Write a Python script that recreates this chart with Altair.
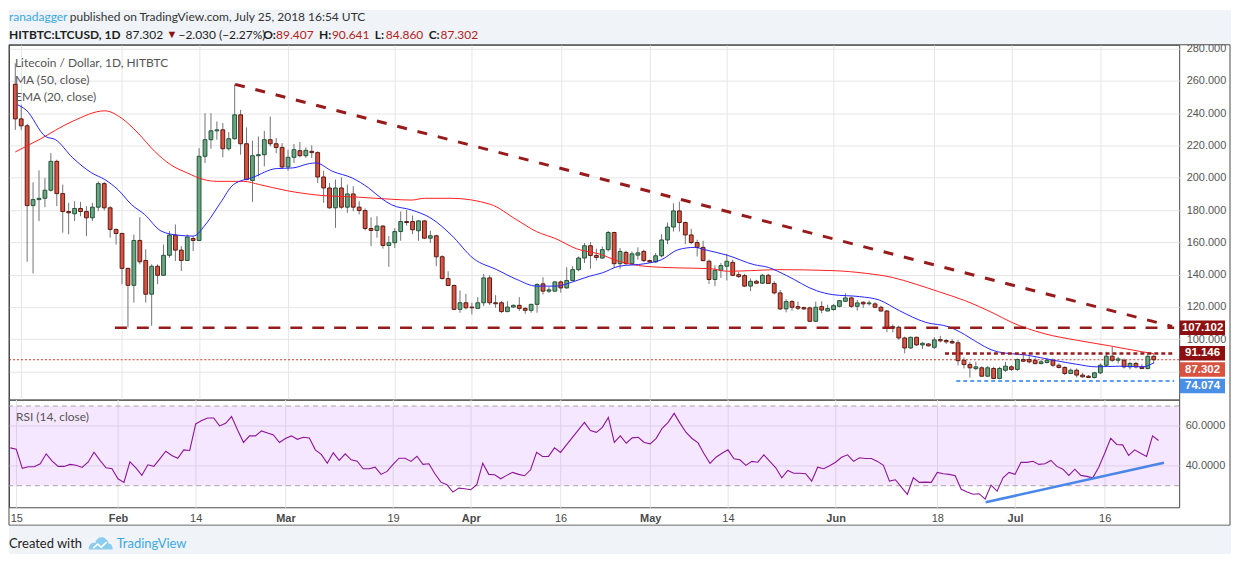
import altair as alt
import pandas as pd

# ---- values -------------------------------------------------------------------
FIRST_DAY = "2018-01-14"  # first candle, half hidden behind the left edge

opens = [
    257.9, 236.5, 232.2, 182.8, 186.5, 187.3, 192.3, 210.2, 190.2, 179.1,
    177.7, 181.0, 179.1, 175.2, 181.8, 196.4, 181.4, 168.0, 165.5, 143.9,
    133.4, 161.2, 148.8, 127.9, 145.2, 139.6, 152.0, 164.5, 155.2, 148.8,
    162.4, 161.2, 213.3, 223.6, 229.1, 229.7, 218.0, 224.2, 239.0, 221.1,
    198.3, 213.7, 214.3, 223.6, 221.1, 218.8, 206.7, 212.7, 216.8, 213.7,
    216.4, 215.6, 200.5, 193.7, 181.4, 193.7, 181.8, 190.0, 181.8, 179.7,
    168.6, 167.4, 170.1, 158.1, 159.8, 166.7, 172.9, 172.9, 167.2, 173.3,
    162.6, 164.1, 151.1, 137.6, 133.3, 118.5, 122.6, 119.9, 119.1, 122.6,
    138.0, 122.6, 122.6, 117.1, 119.9, 121.0, 119.1, 117.9, 121.6, 134.3,
    129.8, 129.8, 135.5, 131.8, 136.4, 143.1, 150.3, 157.9, 151.9, 150.3,
    155.5, 166.1, 146.8, 153.8, 146.8, 152.1, 154.4, 148.7, 147.9, 151.7,
    161.5, 169.5, 179.5, 172.3, 164.6, 159.9, 156.9, 148.3, 137.0, 142.7,
    145.2, 147.6, 140.0, 139.4, 132.9, 135.9, 134.7, 139.6, 134.5, 128.7,
    118.8, 123.3, 120.2, 119.6, 119.4, 111.1, 120.2, 117.5, 118.4, 120.4,
    123.5, 125.6, 120.4, 122.9, 122.0, 121.9, 119.8, 117.5, 107.0, 107.4,
    100.8, 94.6, 101.2, 96.5, 97.1, 95.0, 99.8, 99.2, 98.6, 97.8,
    87.0, 84.3, 81.8, 82.3, 77.1, 81.9, 75.7, 80.8, 82.9, 81.3,
    87.4, 87.4, 87.0, 84.9, 85.6, 87.0, 83.9, 82.5, 78.8, 80.8,
    77.8, 77.1, 76.3, 79.2, 83.9, 89.5, 87.0, 87.0, 82.9, 85.0,
    82.9, 81.9, 89.407,
]
highs = [
    270.9, 245.2, 233.5, 197.2, 204.6, 199.9, 215.3, 211.2, 195.8, 184.5,
    185.5, 185.1, 182.4, 184.5, 197.8, 197.4, 182.4, 168.6, 166.0, 144.3,
    164.9, 175.6, 155.7, 146.4, 146.4, 158.7, 167.0, 171.1, 157.7, 164.9,
    163.9, 218.4, 240.0, 240.0, 234.9, 233.9, 228.3, 257.9, 242.1, 231.2,
    223.0, 225.6, 229.1, 238.0, 224.6, 221.5, 217.4, 220.9, 222.1, 218.8,
    220.1, 216.4, 204.4, 196.8, 198.9, 200.3, 195.8, 194.8, 185.5, 181.0,
    175.6, 176.2, 170.7, 163.9, 168.8, 179.1, 180.1, 176.6, 173.9, 173.9,
    167.2, 164.7, 152.0, 142.1, 133.9, 130.2, 128.1, 122.6, 126.1, 140.5,
    139.6, 127.3, 123.6, 123.6, 121.6, 126.1, 119.9, 122.0, 134.7, 138.4,
    132.3, 136.0, 136.4, 144.6, 145.2, 151.3, 159.6, 160.2, 156.1, 157.5,
    167.1, 166.6, 156.5, 154.8, 154.4, 156.9, 155.5, 149.3, 153.4, 165.1,
    172.3, 184.2, 185.2, 172.9, 168.4, 161.6, 161.0, 149.3, 145.8, 147.2,
    152.8, 149.3, 141.7, 140.5, 137.6, 136.8, 140.5, 140.5, 136.0, 130.5,
    124.9, 124.3, 123.3, 120.2, 120.2, 123.3, 123.5, 121.4, 121.9, 124.3,
    128.5, 126.4, 124.3, 123.5, 123.9, 122.9, 120.8, 118.1, 109.1, 108.4,
    101.6, 101.6, 101.6, 98.1, 97.5, 101.2, 102.1, 100.2, 100.2, 99.4,
    88.7, 86.0, 86.0, 83.3, 83.3, 82.9, 82.9, 86.0, 83.9, 88.1,
    90.1, 89.5, 88.7, 87.4, 88.1, 88.1, 85.0, 83.3, 81.9, 81.9,
    79.2, 77.8, 79.8, 85.0, 92.2, 95.3, 89.1, 88.1, 86.0, 86.0,
    84.5, 91.1, 90.641,
]
lows = [
    229.7, 229.5, 148.0, 140.8, 173.2, 181.8, 191.5, 182.4, 166.0, 165.0,
    173.2, 176.2, 163.9, 173.2, 179.3, 179.7, 162.9, 158.7, 134.1, 107.3,
    122.7, 146.4, 122.7, 108.3, 134.1, 139.2, 150.5, 148.5, 142.3, 148.5,
    154.6, 160.8, 209.2, 218.0, 223.6, 212.7, 216.8, 223.6, 214.3, 198.5,
    185.1, 200.9, 207.1, 219.5, 215.3, 206.1, 204.4, 209.2, 212.7, 212.3,
    212.3, 196.8, 184.5, 180.8, 169.0, 180.8, 178.3, 179.3, 177.3, 167.4,
    157.7, 162.9, 156.1, 144.8, 156.5, 161.0, 170.4, 165.1, 161.0, 162.0,
    159.6, 145.2, 137.0, 132.9, 118.0, 116.4, 118.5, 115.4, 119.1, 120.5,
    121.2, 119.5, 116.4, 116.8, 119.5, 117.5, 115.8, 116.4, 116.4, 127.7,
    128.6, 129.8, 128.8, 131.3, 136.0, 142.1, 147.2, 143.7, 148.7, 149.7,
    154.4, 144.2, 143.7, 146.2, 146.2, 149.3, 147.9, 147.2, 147.2, 150.7,
    158.9, 166.7, 166.7, 158.9, 158.9, 151.3, 148.3, 134.3, 132.9, 138.0,
    136.4, 139.0, 138.0, 132.3, 129.8, 134.3, 134.3, 134.3, 127.8, 118.1,
    116.7, 117.7, 118.1, 118.1, 110.6, 110.6, 116.1, 117.3, 117.7, 119.8,
    123.3, 119.4, 117.7, 119.4, 120.8, 119.2, 117.0, 104.3, 104.3, 99.6,
    91.3, 94.0, 95.9, 94.0, 95.5, 94.0, 98.1, 97.1, 97.1, 83.8,
    81.9, 76.3, 80.8, 76.7, 76.7, 75.3, 75.3, 79.8, 80.4, 80.4,
    86.0, 85.0, 84.5, 84.5, 85.0, 82.9, 81.9, 77.8, 78.4, 76.3,
    76.3, 76.1, 75.7, 78.4, 82.9, 86.0, 85.0, 81.9, 81.3, 81.9,
    81.5, 81.3, 84.86,
]
closes = [
    236.5, 232.2, 182.8, 186.5, 187.3, 192.3, 210.2, 190.2, 179.1, 178.3,
    181.0, 179.1, 175.2, 181.8, 196.4, 181.4, 168.0, 165.5, 143.9, 133.4,
    161.2, 148.0, 127.9, 145.2, 139.6, 152.0, 164.5, 155.2, 148.8, 163.3,
    161.2, 213.3, 223.6, 229.1, 229.7, 218.0, 224.2, 239.0, 221.1, 198.9,
    213.7, 214.3, 223.6, 221.1, 218.8, 206.7, 212.7, 217.4, 213.7, 217.0,
    215.6, 200.5, 193.7, 181.4, 193.7, 181.8, 190.0, 181.8, 179.7, 168.6,
    167.4, 170.1, 158.1, 159.8, 166.7, 172.9, 172.3, 167.8, 173.3, 162.6,
    164.1, 151.1, 137.6, 133.3, 118.5, 122.6, 119.5, 119.5, 122.6, 138.0,
    122.6, 122.0, 117.1, 119.9, 121.0, 119.1, 117.9, 121.6, 133.9, 129.8,
    130.6, 135.5, 131.8, 136.4, 143.1, 150.3, 157.9, 151.9, 150.7, 155.5,
    166.1, 146.8, 154.4, 146.8, 152.9, 153.5, 148.7, 147.9, 151.7, 161.5,
    169.5, 179.5, 172.3, 164.6, 159.9, 156.9, 148.7, 137.0, 142.7, 145.6,
    148.3, 139.6, 138.8, 132.9, 135.9, 134.7, 139.6, 134.5, 128.7, 118.8,
    123.3, 119.8, 119.2, 118.8, 111.1, 119.8, 118.1, 119.0, 120.8, 123.9,
    125.6, 120.4, 122.5, 121.9, 122.5, 119.8, 117.5, 107.0, 107.8, 100.8,
    94.6, 101.2, 96.5, 97.5, 95.9, 99.6, 99.0, 98.4, 97.7, 86.7,
    84.3, 82.3, 82.9, 77.1, 82.3, 75.7, 81.9, 83.3, 81.3, 87.4,
    86.4, 86.0, 84.9, 86.0, 87.0, 83.9, 82.5, 78.8, 80.8, 77.8,
    76.7, 76.3, 79.2, 83.9, 89.5, 87.0, 87.8, 82.9, 85.0, 82.9,
    81.9, 89.4, 87.302,
]
rsi_values = [
    49.0, 48.3, 38.7, 39.5, 39.5, 41.0, 46.0, 42.3, 39.7, 39.7,
    40.7, 40.3, 39.2, 41.8, 46.8, 42.7, 39.0, 38.5, 33.5, 31.7,
    42.0, 39.0, 35.2, 40.5, 39.7, 43.5, 47.3, 45.2, 43.8, 48.0,
    47.7, 61.0, 62.7, 64.0, 64.0, 60.0, 61.3, 64.7, 58.0, 51.7,
    55.0, 55.0, 57.5, 56.5, 55.5, 51.7, 53.7, 55.0, 53.3, 54.3,
    54.0, 48.0, 45.7, 41.3, 46.5, 42.7, 46.0, 43.0, 42.3, 38.5,
    38.5, 39.3, 35.7, 37.2, 40.7, 43.8, 43.8, 42.2, 44.8, 40.7,
    41.0, 36.0, 31.8, 30.5, 26.8, 28.8, 28.5, 28.0, 30.5, 41.3,
    35.7, 35.5, 33.5, 35.2, 36.7, 35.7, 35.0, 38.0, 46.8, 44.7,
    44.7, 49.0, 46.7, 50.5, 54.3, 58.0, 61.8, 57.7, 56.8, 59.3,
    64.3, 51.7, 55.0, 51.3, 54.0, 54.3, 51.7, 51.0, 53.8, 58.8,
    61.8, 66.3, 61.3, 56.7, 53.7, 51.5, 46.0, 41.2, 44.3, 46.3,
    48.0, 43.5, 43.0, 40.2, 42.2, 41.8, 45.5, 42.2, 39.0, 34.0,
    37.7, 36.3, 36.3, 36.0, 32.3, 39.3, 38.5, 40.0, 41.8, 44.3,
    45.5, 42.2, 44.0, 43.7, 43.7, 42.2, 40.2, 32.3, 33.0, 29.3,
    25.7, 34.0, 31.7, 31.8, 31.7, 36.7, 36.0, 35.7, 35.0, 28.2,
    26.8, 25.7, 26.0, 23.3, 30.3, 27.3, 34.0, 36.7, 35.7, 41.8,
    41.7, 42.3, 40.7, 41.0, 42.7, 39.7, 38.3, 35.2, 38.3, 35.2,
    34.7, 34.0, 39.3, 46.3, 53.8, 50.7, 50.5, 45.2, 48.0, 46.3,
    44.7, 55.0, 52.7,
]

# moving averages as traced on the picture (day offset from FIRST_DAY, value)
ma50_days = [0, 4, 9.6, 15.1, 17.9, 20.7, 23.5, 26.2, 29, 31.8, 34, 38.5, 41.2,
             45.7, 51.2, 57.9, 63.5, 66.8, 69, 73.5, 80.1, 84.6, 87.9, 91.2,
             94.6, 98.5, 101.8, 106.2, 111.8, 117.3, 120.1, 124, 128.5, 137.9,
             143.5, 147.9, 151.8, 155.7, 160.1, 165.1, 167.9, 173.5, 179, 184.6,
             190.1, 192]
ma50_values = [216.0, 223.6, 234.9, 241.5, 237.0, 227.7, 216.4, 208.1, 203.0,
               198.9, 197.8, 197.8, 195.8, 192.1, 189.2, 188.0, 186.7, 186.2,
               187.3, 187.3, 183.6, 173.9, 166.7, 162.2, 156.1, 152.8, 148.3,
               145.2, 144.2, 143.7, 142.1, 142.5, 143.1, 142.5, 140.8, 138.3,
               134.2, 129.5, 124.0, 115.9, 110.7, 103.5, 99.4, 95.9, 92.2, 91.1]
ema20_days = [0.4, 1.8, 5.1, 6.8, 9.6, 12.9, 15.1, 17.3, 19.6, 21.8, 24.6, 27.3,
              30.0, 32.3, 34.6, 36.8, 40.1, 44, 46.8, 49.6, 50.7, 53.5, 56.8,
              59.6, 61.8, 63.5, 66.8, 70.1, 73.5, 77.3, 81.2, 84.6, 87.9, 91.2,
              94, 96.8, 99, 101.8, 106.2, 109, 111.8, 114.6, 116.2, 120.1, 124.6,
              127, 130.1, 135.1, 137.9, 142.4, 145.7, 149.1, 153.5, 157.5, 160.1,
              161.2, 165.7, 170.7, 175.1, 179, 182.3, 186.2, 190.1, 192]
ema20_values = [245.2, 242.1, 225.6, 223.6, 212.7, 203.0, 198.9, 192.7, 183.4,
                177.3, 167.0, 164.5, 163.9, 172.1, 184.5, 195.8, 200.3, 205.7,
                206.1, 208.8, 209.2, 204.0, 199.9, 193.7, 187.1, 183.2, 180.1,
                175.0, 164.7, 149.9, 143.1, 137.0, 132.9, 132.9, 135.5, 139.0,
                141.1, 145.2, 146.8, 149.3, 155.5, 156.9, 155.5, 152.0, 146.2,
                144.5, 139.4, 130.1, 127.6, 126.4, 124.3, 117.7, 110.5, 107.6,
                102.9, 100.4, 92.2, 90.1, 87.0, 84.5, 82.9, 83.3, 82.9, 85.4]

date_ticks = ["2018-01-15", "2018-02-01", "2018-02-14", "2018-03-01", "2018-03-19",
              "2018-04-01", "2018-04-16", "2018-05-01", "2018-05-14", "2018-06-01",
              "2018-06-18", "2018-07-01", "2018-07-16"]
price_ticks = [80, 100, 120, 140, 160, 180, 200, 220, 240, 260, 280]
rsi_ticks = [40, 60]

# hand drawn lines (day offsets, values)
trend_days, trend_values = [37.07, 195.1], [257.9, 108.0]
rsi_trend_days, rsi_trend_values = [163.1, 192.9], [21.7, 41.5]
resistance_from, resistance = 16.8, 107.102
upper_from, upper = 156.8, 91.146
support_from, support = 158.7, 74.074
last_price = 87.302

# price tags on the axis: value shown and where the tag sits
tag_values = [107.102, 91.146, 87.302, 74.074]
tag_centers = [107.1, 91.35, 81.2, 71.1]

# ---- styling ------------------------------------------------------------------
W, H_MAIN, H_RSI = 1174, 356, 108
FONT = "Lato"
AXIS_FONT = "Liberation Sans"
GRID = "#E6E6E6"
FRAME = "#4A4A4A"
BG = "#F0F3F7"
UP_FILL, UP_LINE = "#6BA583", "#225437"
DOWN_FILL, DOWN_LINE = "#D75442", "#5B1A13"
WICK = "#737375"
LEVEL_RED = "#971B1B"
TAG_COLORS = ["#8E0F0F", "#8E0F0F", "#D9513F", "#4A8FE7"]
LAST_DAY = 195.45


def ms(day):
    return int((pd.Timestamp(FIRST_DAY) + pd.Timedelta(days=day)).timestamp() * 1000)


tick_ms = [int(pd.Timestamp(d).timestamp() * 1000) for d in date_ticks]
x_scale = alt.Scale(type="utc", domain=[ms(-0.22), ms(LAST_DAY)])
price_scale = alt.Scale(domain=[62.6, 282.4], nice=False, zero=False)
rsi_scale = alt.Scale(domain=[19.2, 73.2], nice=False, zero=False)

x_axis_main = alt.Axis(values=tick_ms, labels=False, ticks=False, domain=False,
                       grid=True, gridColor=GRID, title=None)
x_axis_rsi = alt.Axis(
    values=tick_ms, ticks=False, domain=False, grid=True, gridColor=GRID,
    title=None, labelFont=AXIS_FONT, labelFontSize=11, labelColor=FRAME,
    labelPadding=5, labelOverlap=False, labelFlush=False,
    labelExpr="utcdate(datum.value) == 1 ? utcFormat(datum.value, '%b') "
              ": utcFormat(datum.value, '%d')",
    labelFontWeight={"condition": {"test": "utcdate(datum.value) == 1",
                                   "value": "bold"}, "value": "normal"},
)
y_axis_main = alt.Axis(
    orient="right", values=price_ticks, ticks=False, domain=False, grid=True,
    gridColor=GRID, title=None, labelFont=AXIS_FONT, labelFontSize=11,
    labelColor="#555555", labelPadding=7,
    labelExpr="datum.value < 90 ? '' : format(datum.value, '.3f')",
)
y_axis_rsi = alt.Axis(
    orient="right", values=rsi_ticks, ticks=False, domain=False, grid=True,
    gridColor=GRID, title=None, labelFont=AXIS_FONT, labelFontSize=11,
    labelColor="#555555", labelPadding=6, format=".4f",
)


def xm(field="date"):
    return alt.X(f"{field}:T", scale=x_scale, axis=x_axis_main)


def xr(field="date"):
    return alt.X(f"{field}:T", scale=x_scale, axis=x_axis_rsi)


def yp(field):
    return alt.Y(f"{field}:Q", scale=price_scale, axis=y_axis_main)


def yr(field):
    return alt.Y(f"{field}:Q", scale=rsi_scale, axis=y_axis_rsi)


ONE = pd.DataFrame({"k": [0]})


def text_at(text, x, y, size=12, color="#333333", weight="normal", align="left"):
    return alt.Chart(ONE).mark_text(
        text=text, align=align, baseline="middle", font=FONT, fontSize=size,
        color=color, fontWeight=weight,
    ).encode(x=alt.value(x), y=alt.value(y))


def box(x, x2, y, y2, **style):
    return alt.Chart(ONE).mark_rect(**style).encode(
        x=alt.value(x), x2=alt.value(x2), y=alt.value(y), y2=alt.value(y2))


def segment(days, values, y_enc, x_enc, **style):
    df = pd.DataFrame({"date": [ms(d) for d in days], "value": values})
    return alt.Chart(df).mark_line(clip=True, **style).encode(
        x=x_enc(), y=y_enc("value"))


# ---- price panel --------------------------------------------------------------
assert len(opens) == len(highs) == len(lows) == len(closes) == len(rsi_values)
candles = pd.DataFrame({
    "date": [ms(i) for i in range(len(closes))],
    "open": opens, "high": highs, "low": lows, "close": closes,
})
is_up = "datum.close >= datum.open"

wicks = alt.Chart(candles).mark_rule(color=WICK, strokeWidth=1, clip=True).encode(
    x=xm(), y=yp("low"), y2="high:Q")
bodies = alt.Chart(candles).mark_bar(size=3.8, strokeWidth=1, clip=True).encode(
    x=xm(), y=yp("open"), y2="close:Q",
    color=alt.condition(is_up, alt.value(UP_FILL), alt.value(DOWN_FILL)),
    stroke=alt.condition(is_up, alt.value(UP_LINE), alt.value(DOWN_LINE)),
)

last_line = alt.Chart(pd.DataFrame({"value": [last_price]})).mark_rule(
    color="#C8372D", strokeWidth=1, strokeDash=[2, 2]).encode(y=yp("value"))

ma50 = segment(ma50_days, ma50_values, yp, xm, color="#FF1F1F", strokeWidth=1,
               interpolate="monotone")
ema20 = segment(ema20_days, ema20_values, yp, xm, color="#2525FF", strokeWidth=1,
                interpolate="monotone")
trend = segment(trend_days, trend_values, yp, xm, color=LEVEL_RED, strokeWidth=3,
                strokeDash=[10, 11])
resist_line = segment([resistance_from, LAST_DAY], [resistance] * 2, yp, xm,
                      color=LEVEL_RED, strokeWidth=2.6, strokeDash=[12, 10])
upper_line = segment([upper_from, LAST_DAY], [upper] * 2, yp, xm,
                     color=LEVEL_RED, strokeWidth=2.4, strokeDash=[4, 3])
support_line = segment([support_from, LAST_DAY], [support] * 2, yp, xm,
                       color="#5B9CF6", strokeWidth=2, strokeDash=[4, 3])

tags = pd.DataFrame({"label": [f"{v:.3f}" for v in tag_values],
                     "center": tag_centers})
tags["top"] = tags["center"] + 4.5
tags["bottom"] = tags["center"] - 4.5
tag_color = alt.Color("label:N", legend=None,
                      scale=alt.Scale(domain=list(tags["label"]), range=TAG_COLORS))
tag_boxes = alt.Chart(tags).mark_rect().encode(
    x=alt.value(W + 0.5), x2=alt.value(W + 46), y=yp("top"), y2="bottom:Q",
    color=tag_color)
tag_text = alt.Chart(tags).mark_text(
    font=AXIS_FONT, fontSize=11.5, fontWeight="bold", color="white",
    align="center", baseline="middle").encode(
    x=alt.value(W + 23.5), y=yp("center"), text="label:N")

header = [
    box(0, W + 52, -35, 0, color=BG),
    text_at("ranadagger", 0, -28, color="#3BA9DE"),
    text_at("published on TradingView.com, July 25, 2018 16:54 UTC", 61, -28),
    text_at("HITBTC:LTCUSD, 1D", 0, -10, weight="bold", color="#1E1E1E"),
    text_at("87.302", 117, -10, color="#1E1E1E"),
    text_at("▼", 158, -10, size=11, color="#8E0F0F"),
    text_at("−2.030 (−2.27%)", 170, -10, color="#1E1E1E"),
    text_at("O:", 255, -10, weight="bold", color="#1E1E1E"),
    text_at("89.407", 268, -10, color="#B22222"),
    text_at("H:", 311, -10, weight="bold", color="#1E1E1E"),
    text_at("90.641", 324, -10, color="#B22222"),
    text_at("L:", 367, -10, weight="bold", color="#1E1E1E"),
    text_at("84.860", 378, -10, color="#B22222"),
    text_at("C:", 421, -10, weight="bold", color="#1E1E1E"),
    text_at("87.302", 433, -10, color="#B22222"),
]
legend = [
    text_at("Litecoin / Dollar, 1D, HITBTC", 6, 18, color="#555555"),
    text_at("MA (50, close)", 6, 35, color="#555555"),
    text_at("EMA (20, close)", 6, 52, color="#555555"),
]
outer_frame = box(0, W + 51, 0, H_MAIN + H_RSI + 18, fillOpacity=0,
                  stroke=FRAME, strokeWidth=1)

price_panel = alt.layer(
    *header, last_line, wicks, bodies, ma50, ema20, trend, resist_line,
    upper_line, support_line, tag_boxes, tag_text, *legend, outer_frame,
).properties(width=W, height=H_MAIN)

# ---- RSI panel ----------------------------------------------------------------
rsi_df = pd.DataFrame({"date": [ms(i) for i in range(len(rsi_values))],
                       "value": rsi_values})
band = alt.Chart(pd.DataFrame({"hi": [70], "lo": [30]})).mark_rect(
    color="#9915FF", opacity=0.1).encode(
    x=alt.value(0), x2=alt.value(W), y=yr("hi"), y2="lo:Q")
band_edges = alt.Chart(pd.DataFrame({"value": [30, 70]})).mark_rule(
    color="#A6A6A6", strokeWidth=1, strokeDash=[5, 4]).encode(y=yr("value"))
rsi_line = alt.Chart(rsi_df).mark_line(color="#8E1599", strokeWidth=1.1,
                                        clip=True).encode(x=xr(), y=yr("value"))
rsi_trend = segment(rsi_trend_days, rsi_trend_values, yr, xr,
                    color="#4A86E8", strokeWidth=2.5)

logo = alt.Chart(ONE).mark_point(
    shape="M-1,0.45 C-1,0 -0.7,-0.15 -0.45,-0.1 C-0.35,-0.55 0.1,-0.7 0.4,-0.45 "
          "C0.6,-0.3 0.65,-0.15 0.65,-0.05 C0.9,-0.05 1,0.2 1,0.45 Z",
    size=576, filled=True, color="#8BCDEE", opacity=1).encode(
    x=alt.value(92), y=alt.value(H_RSI + 37))
logo_zig = alt.Chart(ONE).mark_point(
    shape="M-0.75,0.3 L-0.3,-0.1 L0.05,0.2 L0.6,-0.3",
    size=400, filled=False, color="white", strokeWidth=1.6, opacity=1).encode(
    x=alt.value(92), y=alt.value(H_RSI + 38))

footer = [
    box(0, W + 52, H_RSI + 18.5, H_RSI + 47, color=BG),
    text_at("Created with", 0, H_RSI + 37, size=13, color="#1E1E1E"),
    logo, logo_zig,
    text_at("TradingView", 108, H_RSI + 37, size=13, color="#3BA9DE"),
]

rsi_panel = alt.layer(
    band, band_edges, rsi_line, rsi_trend,
    text_at("RSI (14, close)", 7, 17, color="#555555"),
    *footer,
).properties(width=W, height=H_RSI)

chart = (
    alt.vconcat(price_panel, rsi_panel, spacing=0, bounds="flush")
    .resolve_scale(x="independent", y="independent")
    .properties(padding={"left": 0, "top": 0, "right": 0, "bottom": 0},
                background="white")
    .configure_view(stroke=FRAME, strokeWidth=1)
)

chart.save("out.html", embed_options={"renderer": "svg", "actions": False})
